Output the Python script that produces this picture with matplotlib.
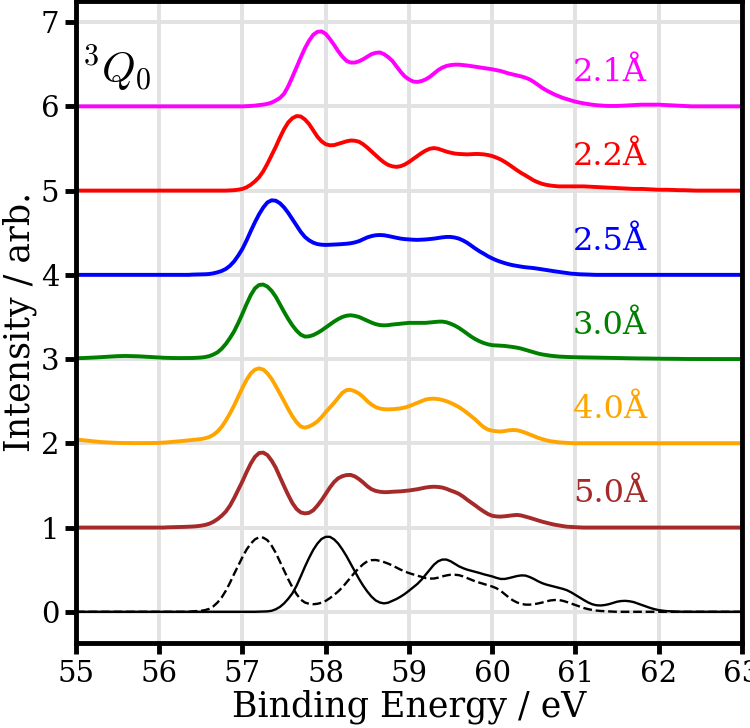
import numpy as np
import matplotlib
matplotlib.use("Agg")
import matplotlib.pyplot as plt

#%%
# energy grid (eV), 0.05 eV steps
energy = np.round(np.linspace(55.0, 63.0, 161), 2)

def pad(start, vals):
    """put values read from `start` eV onto the full grid, flat baseline elsewhere"""
    front = int(round((start - 55.0) / 0.05))
    back = len(energy) - front - len(vals)
    assert back >= 0
    return [0.0]*front + vals + [0.0]*back

# spectra (without vertical offset)
spec_21 = pad(57.0, [
    0.0, 0.002, 0.005, 0.009, 0.015, 0.021, 0.03, 0.045, 0.07, 0.10,
    0.15, 0.24, 0.35, 0.465, 0.58, 0.69, 0.78, 0.85, 0.885, 0.89,
    0.86, 0.80, 0.73, 0.655, 0.59, 0.54, 0.52, 0.52, 0.535, 0.56,
    0.59, 0.62, 0.635, 0.64, 0.62, 0.585, 0.54, 0.475, 0.41, 0.355,
    0.32, 0.295, 0.29, 0.30, 0.32, 0.35, 0.39, 0.43, 0.46, 0.48,
    0.49, 0.495, 0.495, 0.49, 0.485, 0.478, 0.47, 0.462, 0.455, 0.448,
    0.44, 0.43, 0.42, 0.405, 0.39, 0.378, 0.365, 0.355, 0.34, 0.32,
    0.29, 0.255, 0.22, 0.19, 0.165, 0.14, 0.12, 0.10, 0.085, 0.07,
    0.055, 0.045, 0.035, 0.027, 0.02, 0.014, 0.01, 0.007, 0.005, 0.005,
    0.005, 0.007, 0.01, 0.013, 0.015, 0.018, 0.02, 0.02, 0.02, 0.02,
    0.02, 0.018, 0.015, 0.012, 0.01, 0.008, 0.005, 0.002, 0.0])
spec_22 = pad(56.8, [
    0.0, 0.002, 0.005, 0.011, 0.02, 0.04, 0.07, 0.11, 0.16, 0.23,
    0.32, 0.42, 0.52, 0.63, 0.73, 0.81, 0.86, 0.885, 0.88, 0.845,
    0.79, 0.715, 0.64, 0.585, 0.55, 0.538, 0.54, 0.555, 0.57, 0.585,
    0.595, 0.592, 0.58, 0.55, 0.51, 0.465, 0.42, 0.375, 0.335, 0.305,
    0.288, 0.282, 0.29, 0.31, 0.34, 0.375, 0.41, 0.445, 0.475, 0.497,
    0.505, 0.497, 0.48, 0.463, 0.45, 0.44, 0.435, 0.432, 0.43, 0.432,
    0.435, 0.434, 0.43, 0.422, 0.41, 0.392, 0.37, 0.342, 0.31, 0.275,
    0.24, 0.208, 0.18, 0.15, 0.12, 0.098, 0.08, 0.068, 0.06, 0.054,
    0.05, 0.05, 0.05, 0.05, 0.05, 0.05, 0.05, 0.048, 0.045, 0.042,
    0.04, 0.038, 0.035, 0.032, 0.03, 0.028, 0.025, 0.022, 0.02, 0.02,
    0.02, 0.018, 0.015, 0.012, 0.01, 0.01, 0.01, 0.008, 0.005, 0.005,
    0.005, 0.003, 0.0])
spec_25 = pad(56.4, [
    0.003, 0.004, 0.005, 0.007, 0.01, 0.018, 0.03, 0.046, 0.07, 0.108,
    0.16, 0.23, 0.31, 0.41, 0.52, 0.625, 0.72, 0.80, 0.86, 0.885,
    0.88, 0.85, 0.80, 0.735, 0.66, 0.585, 0.51, 0.45, 0.41, 0.382,
    0.365, 0.358, 0.355, 0.357, 0.36, 0.362, 0.365, 0.369, 0.375, 0.385,
    0.40, 0.422, 0.445, 0.46, 0.47, 0.473, 0.47, 0.461, 0.45, 0.44,
    0.43, 0.424, 0.42, 0.417, 0.415, 0.417, 0.42, 0.425, 0.43, 0.438,
    0.445, 0.45, 0.45, 0.443, 0.43, 0.408, 0.38, 0.345, 0.31, 0.278,
    0.25, 0.22, 0.195, 0.173, 0.155, 0.139, 0.125, 0.114, 0.105, 0.097,
    0.09, 0.085, 0.08, 0.073, 0.065, 0.057, 0.05, 0.042, 0.035, 0.027,
    0.02, 0.014, 0.01, 0.007, 0.005, 0.002, 0.0])
spec_30 = pad(55.0, [
    0.01, 0.011, 0.013, 0.015, 0.018, 0.02, 0.023, 0.027, 0.03, 0.033,
    0.035, 0.036, 0.037, 0.036, 0.035, 0.033, 0.03, 0.027, 0.024, 0.021,
    0.018, 0.016, 0.014, 0.013, 0.012, 0.012, 0.012, 0.012, 0.013, 0.015,
    0.018, 0.024, 0.035, 0.054, 0.08, 0.123, 0.18, 0.25, 0.33, 0.43,
    0.54, 0.655, 0.76, 0.84, 0.88, 0.885, 0.86, 0.81, 0.74, 0.65,
    0.56, 0.475, 0.40, 0.337, 0.29, 0.267, 0.27, 0.285, 0.31, 0.34,
    0.375, 0.41, 0.445, 0.475, 0.50, 0.515, 0.52, 0.513, 0.50, 0.478,
    0.455, 0.433, 0.415, 0.404, 0.40, 0.403, 0.41, 0.415, 0.42, 0.425,
    0.43, 0.43, 0.43, 0.43, 0.43, 0.435, 0.44, 0.444, 0.445, 0.437,
    0.42, 0.398, 0.37, 0.336, 0.30, 0.265, 0.235, 0.21, 0.19, 0.175,
    0.165, 0.162, 0.16, 0.156, 0.15, 0.143, 0.135, 0.124, 0.11, 0.095,
    0.08, 0.066, 0.055, 0.047, 0.04, 0.035, 0.03, 0.027, 0.025, 0.023,
    0.022, 0.021, 0.02, 0.019, 0.018, 0.017, 0.016, 0.015, 0.014, 0.013,
    0.012, 0.011, 0.01, 0.01, 0.009, 0.008, 0.008, 0.007, 0.006, 0.006,
    0.005, 0.004, 0.004, 0.003, 0.003, 0.002, 0.002, 0.001, 0.001, 0.0])
spec_40 = pad(55.0, [
    0.045, 0.04, 0.035, 0.03, 0.025, 0.02, 0.015, 0.012, 0.01, 0.007,
    0.005, 0.004, 0.003, 0.002, 0.002, 0.002, 0.002, 0.002, 0.003, 0.004,
    0.005, 0.008, 0.012, 0.016, 0.02, 0.025, 0.03, 0.035, 0.04, 0.045,
    0.05, 0.06, 0.075, 0.10, 0.14, 0.195, 0.27, 0.355, 0.45, 0.555,
    0.66, 0.755, 0.83, 0.875, 0.89, 0.875, 0.83, 0.765, 0.68, 0.59,
    0.50, 0.405, 0.32, 0.25, 0.20, 0.185, 0.20, 0.225, 0.26, 0.31,
    0.37, 0.425, 0.48, 0.54, 0.60, 0.632, 0.635, 0.618, 0.59, 0.55,
    0.50, 0.46, 0.43, 0.413, 0.405, 0.403, 0.405, 0.409, 0.415, 0.425,
    0.44, 0.46, 0.48, 0.50, 0.52, 0.528, 0.53, 0.525, 0.515, 0.50,
    0.48, 0.457, 0.43, 0.397, 0.36, 0.32, 0.28, 0.232, 0.19, 0.163,
    0.15, 0.143, 0.14, 0.146, 0.155, 0.158, 0.155, 0.142, 0.125, 0.105,
    0.085, 0.066, 0.05, 0.036, 0.025, 0.018, 0.012, 0.008, 0.005, 0.002,
    0.0])
spec_50 = pad(56.1, [
    0.003, 0.004, 0.005, 0.006, 0.008, 0.01, 0.012, 0.016, 0.022, 0.031,
    0.045, 0.068, 0.10, 0.14, 0.19, 0.26, 0.35, 0.45, 0.55, 0.66,
    0.76, 0.84, 0.885, 0.89, 0.86, 0.795, 0.71, 0.60, 0.49, 0.385,
    0.29, 0.22, 0.18, 0.168, 0.175, 0.205, 0.26, 0.325, 0.40, 0.475,
    0.54, 0.585, 0.61, 0.623, 0.625, 0.607, 0.575, 0.535, 0.49, 0.455,
    0.435, 0.425, 0.42, 0.421, 0.425, 0.427, 0.43, 0.435, 0.44, 0.447,
    0.455, 0.465, 0.475, 0.482, 0.485, 0.482, 0.475, 0.46, 0.44, 0.422,
    0.40, 0.368, 0.33, 0.295, 0.26, 0.223, 0.19, 0.16, 0.14, 0.132,
    0.13, 0.134, 0.14, 0.146, 0.15, 0.143, 0.13, 0.116, 0.10, 0.085,
    0.07, 0.057, 0.045, 0.034, 0.025, 0.017, 0.01, 0.007, 0.005, 0.002,
    0.0])

# reference spectra at the bottom (solid and dashed black)
ref_solid = pad(57.2, [
    0.002, 0.003, 0.005, 0.012, 0.03, 0.058, 0.10, 0.155, 0.22, 0.31,
    0.42, 0.535, 0.64, 0.735, 0.81, 0.865, 0.89, 0.89, 0.86, 0.81,
    0.74, 0.66, 0.57, 0.48, 0.39, 0.31, 0.24, 0.18, 0.135, 0.11,
    0.10, 0.108, 0.13, 0.152, 0.18, 0.212, 0.25, 0.29, 0.33, 0.38,
    0.44, 0.50, 0.56, 0.60, 0.62, 0.62, 0.60, 0.57, 0.54, 0.518,
    0.50, 0.487, 0.475, 0.46, 0.445, 0.432, 0.42, 0.403, 0.39, 0.39,
    0.40, 0.413, 0.425, 0.432, 0.43, 0.413, 0.39, 0.363, 0.34, 0.323,
    0.31, 0.297, 0.285, 0.272, 0.255, 0.23, 0.20, 0.17, 0.14, 0.112,
    0.09, 0.078, 0.075, 0.08, 0.09, 0.105, 0.12, 0.128, 0.13, 0.125,
    0.115, 0.098, 0.08, 0.062, 0.045, 0.031, 0.02, 0.013, 0.008, 0.005,
    0.003, 0.001, 0.0])
ref_dashed = pad(56.4, [
    0.005, 0.008, 0.012, 0.02, 0.035, 0.065, 0.11, 0.17, 0.25, 0.345,
    0.45, 0.55, 0.65, 0.74, 0.81, 0.86, 0.885, 0.88, 0.85, 0.785,
    0.70, 0.595, 0.49, 0.385, 0.29, 0.21, 0.145, 0.11, 0.095, 0.09,
    0.095, 0.108, 0.13, 0.162, 0.20, 0.242, 0.29, 0.35, 0.41, 0.468,
    0.52, 0.565, 0.60, 0.613, 0.615, 0.605, 0.59, 0.572, 0.55, 0.525,
    0.50, 0.478, 0.46, 0.444, 0.43, 0.415, 0.40, 0.394, 0.395, 0.405,
    0.42, 0.432, 0.44, 0.44, 0.435, 0.42, 0.40, 0.38, 0.36, 0.345,
    0.33, 0.315, 0.30, 0.28, 0.25, 0.21, 0.17, 0.135, 0.11, 0.094,
    0.085, 0.085, 0.09, 0.099, 0.11, 0.124, 0.135, 0.14, 0.14, 0.13,
    0.115, 0.098, 0.08, 0.062, 0.045, 0.032, 0.022, 0.015, 0.01, 0.007,
    0.005, 0.002, 0.0])

spectra = [spec_50, spec_40, spec_30, spec_25, spec_22, spec_21]
labels = ["5.0Å", "4.0Å", "3.0Å", "2.5Å", "2.2Å", "2.1Å"]
colors = ["brown", "orange", "green", "blue", "red", "magenta"]

#%%
plt.rcParams["font.family"] = "DejaVu Serif"
plt.rcParams["mathtext.fontset"] = "cm"

fig = plt.figure(figsize=(7.5, 7.28), dpi=100)
ax = fig.add_axes([0.1013, 0.1168, 0.888, 0.8822])

ax.grid(True, color="#e2e2e2", linewidth=2.8)
ax.set_axisbelow(True)

ax.plot(energy, ref_solid, color="black", lw=1.7)
ax.plot(energy, ref_dashed, color="black", lw=1.7, ls="--")

for i, (s, lab, c) in enumerate(zip(spectra, labels, colors)):
    off = i + 1
    ax.plot(energy, np.array(s) + off, color=c, lw=2.8)
    ax.text(60.97, off + 0.3, lab, color=c, fontsize=23, va="baseline")

ax.text(55.07, 6.27, r"$^3Q_0$", fontsize=31, va="baseline")

ax.set_xlim(55, 63)
ax.set_ylim(-0.37, 7.254)
ax.set_xticks(range(55, 64))
ax.set_yticks(range(0, 8))
ax.tick_params(labelsize=21, width=3.5, length=8, pad=4)
for sp in ax.spines.values():
    sp.set_linewidth(3.5)

ax.set_xlabel("Binding Energy / eV", fontsize=25, labelpad=1)
ax.set_ylabel("Intensity / arb.", fontsize=25, labelpad=3)

fig.savefig("out.png", dpi=100)
